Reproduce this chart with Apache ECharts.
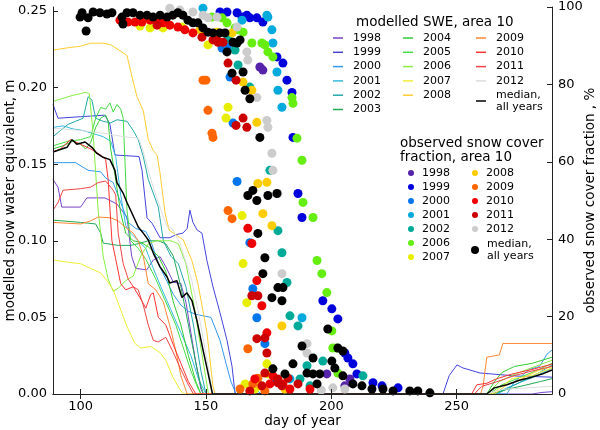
<!DOCTYPE html>
<html>
<head>
<meta charset="utf-8">
<script src="https://cdn.jsdelivr.net/npm/echarts@6.0.0/dist/echarts.min.js"></script>
<style>
  html, body { margin: 0; padding: 0; background: #fff; }
  #chart { width: 600px; height: 430px; }
</style>
</head>
<body>
<div id="chart"></div>
<script>
// modelled SWE (m) per year, [day of year, swe]
const swe1998 = [[89,0.140],[91,0.135],[92.5,0.122],[100,0.122],[102.5,0.128],[109.7,0.128],[114.5,0.124],[118.5,0.1155],[120.4,0.0896],[122,0.082],[126.4,0.081],[129,0.0875],[131.7,0.0896],[134,0.083],[137,0.073],[140,0.072],[142,0.06],[144,0.04],[146,0.02],[148,0.003],[149,0],[280,0],[284,0.001],[288,0.0015]];
const swe1999 = [[89,0.189],[91,0.180],[100,0.181],[109.7,0.182],[111.7,0.176],[113.7,0.156],[123.3,0.155],[124.5,0.146],[126.5,0.115],[128.5,0.1115],[131.7,0.102],[135.6,0.102],[138,0.104],[140.8,0.105],[142.5,0.108],[143.6,0.120],[144.8,0.112],[146.5,0.107],[148.4,0.105],[150.4,0.087],[152.8,0.070],[155.6,0.053],[158.4,0.035],[160.4,0.018],[161.6,0],[244.5,0],[247,0.012],[250.1,0.019],[252.5,0.017],[259.3,0.0137],[274,0.0117],[288,0.011]];
const swe2000 = [[89,0.151],[98,0.151],[101,0.148],[103,0.146],[108,0.145],[110,0.141],[113,0.138],[116,0.125],[119,0.112],[122,0.108],[126,0.106],[128,0.1],[131,0.085],[134,0.075],[137,0.065],[140,0.058],[143,0.054],[146,0.052],[152,0.050],[155.6,0.035],[158,0.02],[160,0.008],[162,0],[166,0],[168,0.004],[170,0.003],[172,0],[270,0],[273,0.008],[276,0.012],[279,0.016],[283,0.018],[286,0.026],[288,0.0287]];
const swe2001 = [[89,0.174],[93,0.175],[97,0.173],[101,0.172],[105,0.17],[109,0.168],[112,0.165],[114,0.155],[116,0.13],[118,0.11],[120,0.105],[123,0.1],[126,0.095],[129,0.082],[132,0.07],[136,0.055],[140,0.04],[144,0.025],[147,0.01],[150,0],[265,0],[270,0.004],[276,0.008],[282,0.012],[288,0.017]];
const swe2002 = [[89,0.168],[92,0.172],[95,0.176],[98,0.178],[101,0.18],[103,0.194],[104.5,0.192],[106,0.18],[109,0.178],[112,0.177],[114.5,0.179],[118.5,0.178],[121,0.172],[123,0.166],[125,0.155],[127,0.14],[131,0.122],[133,0.1],[136,0.09],[139,0.085],[142,0.07],[145,0.045],[148,0.015],[150,0],[266,0],[272,0.005],[278,0.01],[283,0.014],[288,0.019]];
const swe2003 = [[89,0.1135],[100,0.112],[106,0.111],[108,0.105],[109,0.0985],[115,0.097],[120,0.097],[124,0.0985],[127,0.100],[131,0.1],[134,0.098],[137,0.09],[140,0.07],[143,0.045],[146,0.02],[148,0.005],[149,0],[264,0],[270,0.003],[278,0.006],[283,0.008],[288,0.010]];
const swe2004 = [[89,0.16],[93,0.162],[97,0.165],[100,0.163],[102,0.160],[104,0.164],[106,0.174],[108,0.18],[110,0.182],[111,0.178],[112,0.16],[114,0.14],[116,0.118],[118,0.105],[121,0.1],[124,0.099],[127,0.096],[131,0.09],[134,0.08],[137,0.06],[140,0.045],[143,0.025],[146,0.008],[148,0],[262,0],[265,0.008],[268,0.014],[273,0.018],[280,0.02],[288,0.024]];
const swe2005 = [[89,0.162],[95,0.165],[100,0.166],[104,0.168],[106,0.18],[108,0.187],[110,0.186],[111.7,0.19],[113,0.184],[114.5,0.189],[116,0.186],[117,0.18],[118.5,0.12],[120,0.1],[123,0.095],[126,0.088],[130,0.075],[134,0.06],[138,0.045],[141,0.03],[144,0.015],[147,0.003],[148,0],[263,0],[268,0.006],[274,0.01],[280,0.014],[288,0.02]];
const swe2006 = [[89,0.191],[93,0.193],[97,0.195],[100,0.196],[102,0.197],[103.5,0.196],[105,0.17],[107,0.12],[109,0.09],[111,0.075],[113,0.067],[115,0.069],[118,0.074],[121,0.077],[124,0.09],[127,0.098],[130,0.1],[133,0.1],[136,0.1],[139,0.098],[142,0.085],[145,0.06],[148,0.03],[150,0.01],[151,0],[262,0],[267,0.008],[272,0.012],[278,0.016],[283,0.019],[288,0.022]];
const swe2007 = [[89,0.0875],[95,0.086],[100,0.085],[104,0.082],[108,0.079],[111,0.073],[113,0.068],[116,0.055],[118.5,0.044],[121.7,0.033],[124,0.03],[128,0.031],[131.7,0.027],[134,0.022],[136.8,0.011],[139.6,0.003],[141,0],[264,0],[268,0.005],[272,0.01],[280,0.012],[288,0.017]];
const swe2008 = [[89,0.2245],[95,0.226],[100,0.227],[104,0.229],[109,0.229],[112,0.228],[118.5,0.221],[120.5,0.207],[122.5,0.194],[125,0.185],[127,0.166],[129,0.159],[130.5,0.156],[131.7,0.144],[133.7,0.118],[135.3,0.107],[141,0.1005],[144.4,0.087],[146.8,0.072],[150.4,0.040],[152.8,0.005],[153.6,0],[265,0],[270,0.006],[276,0.01],[282,0.015],[288,0.018]];
const swe2009 = [[89,0.112],[100,0.111],[104,0.113],[107,0.1155],[112,0.115],[115,0.113],[117,0.11],[121,0.105],[123,0.1],[125,0.09],[127,0.072],[130,0.068],[133,0.06],[136,0.042],[138,0.028],[140,0.012],[142.5,0],[259.5,0],[260.5,0.005],[262,0.024],[267,0.0255],[268.4,0.033],[288,0.033]];
const swe2010 = [[89,0.158],[92,0.160],[96,0.166],[100,0.163],[104,0.160],[108,0.156],[110,0.153],[111,0.14],[112.5,0.10],[114,0.088],[116,0.072],[118,0.068],[121,0.07],[124,0.062],[126,0.056],[128,0.065],[129,0.066],[131,0.05],[134,0.045],[137,0.032],[140,0.02],[143,0.008],[146,0],[256,0],[258,0.006],[262,0.007],[266,0.01],[272,0.013],[280,0.016],[288,0.0195]];
const swe2011 = [[89,0.12],[91,0.125],[93,0.133],[100,0.134],[104,0.135],[107,0.138],[110,0.139],[112,0.135],[113,0.133],[114,0.130],[115,0.105],[117,0.085],[119,0.075],[121,0.07],[123,0.068],[125,0.058],[127,0.045],[129,0.035],[131,0.034],[134,0.037],[137,0.027],[140,0.016],[143,0.006],[145,0],[257,0],[260,0.005],[266,0.008],[273,0.012],[280,0.015],[288,0.018]];
const swe2012 = [[89,0.1735],[100,0.172],[110,0.170],[117,0.168],[123,0.167],[124.5,0.161],[128,0.140],[131,0.125],[134.5,0.109],[136.5,0.108],[139.6,0.0985],[144.4,0.074],[146.8,0.055],[150.4,0.022],[152.4,0.003],[153,0],[262,0],[268,0.003],[278,0.004],[288,0.005]];
const sweMedian = [[89,0.158],[94.6,0.161],[96.6,0.166],[98.5,0.163],[101.8,0.1645],[104.5,0.161],[106.5,0.157],[109,0.1545],[111.7,0.153],[113.7,0.146],[114.5,0.138],[117,0.131],[118.5,0.125],[120.5,0.118],[123,0.109],[125,0.105],[127,0.1005],[129,0.092],[131.7,0.083],[134.5,0.0764],[135.6,0.0724],[138.4,0.074],[140.4,0.063],[142.4,0.066],[144.4,0.061],[146.4,0.048],[148.8,0.029],[150.8,0.014],[152.6,0],[262,0],[265,0.004],[270,0.006],[275,0.009],[280,0.011],[284,0.013],[288,0.0157]];

// observed snow cover fraction (%) per year, [day of year, percent]
const obs1998 = [[171.5,84.5],[172.7,83.7],[205.4,2.1],[207.4,3.9],[198.2,5.2]];
const obs1999 = [[155.6,98.7],[158.4,98.7],[162.4,98.5],[164.4,97.4],[166.3,97.9],[167.5,97.2],[170.3,97.2],[172.7,96.1],[178.3,87.1],[180.7,85.5],[182.3,81.1],[184.3,77.9],[184.7,66.3],[186.7,51.8],[188.3,45.6],[196.6,24.1],[200.2,22],[202.6,19.4],[205.4,10.6],[206.6,9.3],[208.6,7.8],[210.2,5.2],[216.6,2.9],[220.2,2.1],[226.6,1.6]];
const obs2000 = [[156.4,89.4],[158.4,89.6],[159.6,81.9],[160.8,70.0],[162.4,54.9],[167.5,39.1],[168.7,27.2],[170.3,19.7],[173.5,13.0],[169.5,2.1],[177.5,3.4]];
const obs2001 = [[148.8,99.7],[164.4,96.6],[174.3,97.9],[174.7,97.4],[176.3,94.1],[176.7,90.7],[178.3,83.2],[178.7,78.5],[180.3,74.1],[188.3,19.7],[183.5,3.9]];
const obs2002 = [[158.8,92.0],[161.6,88.9],[162.8,85.0],[167.5,79.3],[175.5,57.8],[178.7,42.2],[180.3,36.5],[182.3,28.8],[183.5,20.2],[186.7,17.6],[212.6,4.7],[187.5,3.9],[191.5,2.1],[190.3,7.3],[196.6,8.5]];
const obs2006 = [[152.4,97.4],[156.4,97.2],[158.4,95.9],[161.6,94.6],[162.8,94.1],[164.8,93.5],[168.3,90.7],[172.3,90.7],[173.5,90.2],[174.7,88.4],[176.7,87.1],[184.3,76.6],[184.7,75.1],[186.3,66.1],[188.3,60.4],[188.7,49.5],[192.7,45.6],[194.3,34.5],[196.2,31.1],[198.2,26.2],[200.2,16.3],[200.6,11.9],[202.2,11.9],[202.6,5.4]];
const obs2007 = [[123.7,95.1],[127.7,94.6],[132.9,94.6],[140.4,94.8],[150.8,90.2],[158.8,74.1],[158,71.3],[164.4,46.1],[164.8,33.7],[166.3,23.6],[174.3,7.8],[169.5,1.3],[165.6,2.6],[174.7,5.2]];
const obs2008 = [[147.6,94.1],[154.4,93.5],[160.4,93.3],[164.8,80.6],[168.3,78.5],[170.3,70.2],[170.7,54.4],[174.3,54.7],[172.7,46.6],[176.3,43.5],[180.3,17.6],[171.5,2.1],[181.5,1.3]];
const obs2009 = [[148.8,81.1],[150,81.1],[150.8,73.3],[152.4,67.4],[152.8,66.3],[158.8,47.4],[160.4,45.3],[166.7,11.7],[170.7,4.1],[168.7,2.6],[163.6,1.3],[173.5,0.8]];
const obs2010 = [[115.7,96.6],[118.9,96.1],[121.7,96.1],[124.5,96.1],[127.7,96.6],[130.9,95.9],[132.9,95.9],[135.6,95.3],[138.8,94.8],[141.6,94.1],[144.8,93.3],[166.7,42.8],[168.3,38.9],[170.3,29.3],[172.3,22.8],[174.3,15.8],[169.5,3.9],[175.5,2.6],[183.5,1.3],[191.5,1.3],[176.7,4.7],[180.7,2.6]];
const obs2011 = [[130.5,95.3],[148.4,92.2],[152.8,91.5],[154.4,91.5],[154.8,90.9],[156.8,90.9],[158.8,85.5],[162,81.1],[164.8,71.3],[162,69.4],[166.3,68.9],[170.7,25.4],[168.3,25.4],[173.5,14.5],[170.3,14.3],[174.3,10.6],[172.3,2.1],[178.7,3.9],[186.7,2.6],[167.5,0.8],[173.5,5.4],[180.3,2.1],[178.7,2.9],[182.7,4.1]];
const obs2012 = [[135.6,99.7],[139.6,99.2],[144.8,98.7],[148.8,97.9],[150.8,97.2],[154.4,97.4],[162.4,94.8],[166.3,88.4],[166.7,86.3],[170.3,76.6],[174.3,70.7],[174.7,68.9],[176.3,62.2],[176.7,57.8],[178.7,51.8],[180.3,31.1],[190.3,13.0],[200.6,1.6],[205.4,1.3],[196,1.0],[190.3,10.6]];
const obsMedian = [[99.8,97.4],[100.6,98.5],[102.2,93.8],[103,97.2],[105,98.7],[107.7,98.5],[110.5,98.2],[112.5,98.5],[116.5,97.4],[116.9,95.6],[118.5,98.5],[120.9,98.5],[123.7,97.9],[126.5,97.9],[128.9,97.4],[131.7,97.9],[134.5,97.4],[136.8,97.9],[138.8,98.5],[140.8,97.9],[142.8,96.6],[144.8,95.9],[146.8,95.9],[148.8,94.6],[150.8,93.5],[152.8,93.3],[155.6,93.3],[157.6,93.3],[158.4,88.4],[160.8,90.9],[162.4,90.7],[163.6,91.5],[160.4,82.9],[164.8,83.2],[165.6,78.5],[167.5,76.3],[171.5,66.3],[166.7,51.3],[168.7,52.6],[170.3,50.0],[174.7,51.3],[178.3,51.8],[170.7,41.5],[173.5,35.2],[172.7,31.1],[178.7,27.5],[180.7,27.5],[176.3,24.9],[180.3,24.1],[188.3,12.4],[184.7,7.8],[192.7,9.3],[198.6,16.8],[202.6,11.9],[204.6,11.1],[200.2,8.5],[201.4,6.7],[204.6,4.7],[208.6,2.6],[212.2,2.1],[216.2,1.3],[220.6,1.3],[224.6,0.8],[231.3,0.8],[234.5,0.8],[239.3,0.3],[176.7,6.5],[181.5,5.2],[190.3,5.4],[192.7,5.2],[195.4,5.2],[194.3,2.6]];

const sweYears = ['1998','1999','2000','2001','2002','2003','2004','2005','2006','2007','2008','2009','2010','2011','2012'];
const sweData = [swe1998, swe1999, swe2000, swe2001, swe2002, swe2003, swe2004, swe2005, swe2006, swe2007, swe2008, swe2009, swe2010, swe2011, swe2012];
const sweColors = ['#7744cc','#4444dd','#3399ee','#33bbdd','#22aaaa','#22aa55','#33cc33','#44dd44','#88ee44','#eeee33','#ffcc33','#ff8833','#ff3333','#ee4444','#dddddd'];

const obsYears = ['1998','1999','2000','2001','2002','2006','2007','2008','2009','2010','2011','2012'];
const obsData = [obs1998, obs1999, obs2000, obs2001, obs2002, obs2006, obs2007, obs2008, obs2009, obs2010, obs2011, obs2012];
const obsColors = ['#5522aa','#0000dd','#0077ee','#00aadd','#00aa99','#66ee11','#e8ee00','#ffcc00','#ff6600','#ee0000','#cc0000','#cccccc'];

const xTicks = [100, 150, 200, 250];
const sweTicks = [0, 0.05, 0.10, 0.15, 0.20, 0.25];

const FONT = 'DejaVu Sans';
const frame = { show: true, lineStyle: { color: '#222', width: 1 } };

const series = [];
sweYears.forEach((y, i) => {
  series.push({
    name: 'swe' + y, type: 'line', data: sweData[i], xAxisIndex: 0, yAxisIndex: 0,
    showSymbol: false, symbol: 'none', z: 2,
    lineStyle: { color: sweColors[i], width: 1 }, itemStyle: { color: sweColors[i] }
  });
});
series.push({
  name: 'sweMedian', type: 'line', data: sweMedian, xAxisIndex: 0, yAxisIndex: 0,
  showSymbol: false, symbol: 'none', z: 2,
  lineStyle: { color: '#000', width: 1.5 }, itemStyle: { color: '#000' }
});
obsYears.forEach((y, i) => {
  series.push({
    name: 'obs' + y, type: 'scatter', data: obsData[i], xAxisIndex: 0, yAxisIndex: 1,
    symbolSize: 9, z: 3, itemStyle: { color: obsColors[i], opacity: 1 }
  });
});
series.push({
  name: 'obsMedian', type: 'scatter', data: obsMedian, xAxisIndex: 0, yAxisIndex: 1,
  symbolSize: 9, z: 3, itemStyle: { color: '#000', opacity: 1 }
});

const legendName = n => (n.endsWith('Median') ? 'median,\nall years' : n.slice(3));
const legendBase = {
  orient: 'vertical', padding: 0, selectedMode: false,
  formatter: legendName,
  textStyle: { fontFamily: FONT, fontSize: 11, lineHeight: 12, color: '#000', padding: [0, 0, 0, 5] }
};
const lineLegend = (left, top, names) => Object.assign({}, legendBase, {
  left, top, data: names, icon: 'rect', itemWidth: 10, itemHeight: 1.5, itemGap: 2.3
});
const dotLegend = (left, top, names, size) => Object.assign({}, legendBase, {
  left, top, data: names, icon: 'circle', itemWidth: size, itemHeight: size, itemGap: 2,
  textStyle: Object.assign({}, legendBase.textStyle, { padding: [0, 0, 0, 3] })
});
const nameStyle = { fontFamily: FONT, fontSize: 13.5, color: '#000' };

const chart = echarts.init(document.getElementById('chart'), null, { renderer: 'canvas' });
chart.setOption({
  animation: false,
  backgroundColor: '#fff',
  textStyle: { fontFamily: FONT },
  title: [
    { text: 'modelled SWE, area 10', left: 356, top: 15, padding: 0,
      textStyle: { fontFamily: FONT, fontSize: 13.5, fontWeight: 'normal', color: '#000', lineHeight: 15 } },
    { text: 'observed snow cover\nfraction, area 10', left: 400, top: 136, padding: 0,
      textStyle: { fontFamily: FONT, fontSize: 13.5, fontWeight: 'normal', color: '#000', lineHeight: 14 } }
  ],
  legend: [
    lineLegend(333, 32, sweYears.slice(0, 6).map(y => 'swe' + y)),
    lineLegend(403, 32, sweYears.slice(6, 11).map(y => 'swe' + y)),
    lineLegend(476, 32, sweYears.slice(11).map(y => 'swe' + y)),
    lineLegend(476, 89, ['sweMedian']),
    dotLegend(408, 167, obsYears.slice(0, 7).map(y => 'obs' + y), 6),
    dotLegend(472, 167, obsYears.slice(7).map(y => 'obs' + y), 6),
    dotLegend(471, 238, ['obsMedian'], 8)
  ],
  grid: { left: 53, right: 48, top: 7, bottom: 36, outerBoundsMode: 'none' },
  xAxis: [
    {
      type: 'value', min: 89, max: 288, position: 'bottom', z: 4,
      name: 'day of year', nameLocation: 'middle', nameGap: 20, nameMoveOverlap: false,
      nameTextStyle: nameStyle,
      axisLine: frame,
      axisTick: { show: true, inside: true, length: 5, customValues: xTicks, lineStyle: { color: '#222' } },
      axisLabel: { customValues: xTicks, fontSize: 13, color: '#000', margin: 6 },
      splitLine: { show: false }
    },
    {
      type: 'value', min: 89, max: 288, position: 'top', z: 4,
      axisLine: frame,
      axisTick: { show: true, inside: true, length: 5, customValues: xTicks, lineStyle: { color: '#222' } },
      axisLabel: { show: false },
      splitLine: { show: false }
    }
  ],
  yAxis: [
    {
      type: 'value', min: 0, max: 0.2526, position: 'left', z: 4,
      name: 'modelled snow water equivalent, m', nameLocation: 'middle', nameGap: 36, nameRotate: 90, nameMoveOverlap: false,
      nameTextStyle: nameStyle,
      axisLine: frame,
      axisTick: { show: true, inside: true, length: 5, customValues: sweTicks, lineStyle: { color: '#222' } },
      axisLabel: { customValues: sweTicks, fontSize: 13, color: '#000', margin: 6, formatter: v => v.toFixed(2) },
      splitLine: { show: false }
    },
    {
      type: 'value', min: 0, max: 100, interval: 20, position: 'right', z: 4,
      name: 'observed snow cover fraction , %', nameLocation: 'middle', nameGap: 31, nameRotate: 90, nameMoveOverlap: false,
      nameTextStyle: nameStyle,
      axisLine: frame,
      axisTick: { show: true, inside: true, length: 5, lineStyle: { color: '#222' } },
      axisLabel: { fontSize: 13, color: '#000', margin: 6 },
      splitLine: { show: false }
    }
  ],
  series: series
});
window.addEventListener('resize', () => chart.resize());
</script>
</body>
</html>
